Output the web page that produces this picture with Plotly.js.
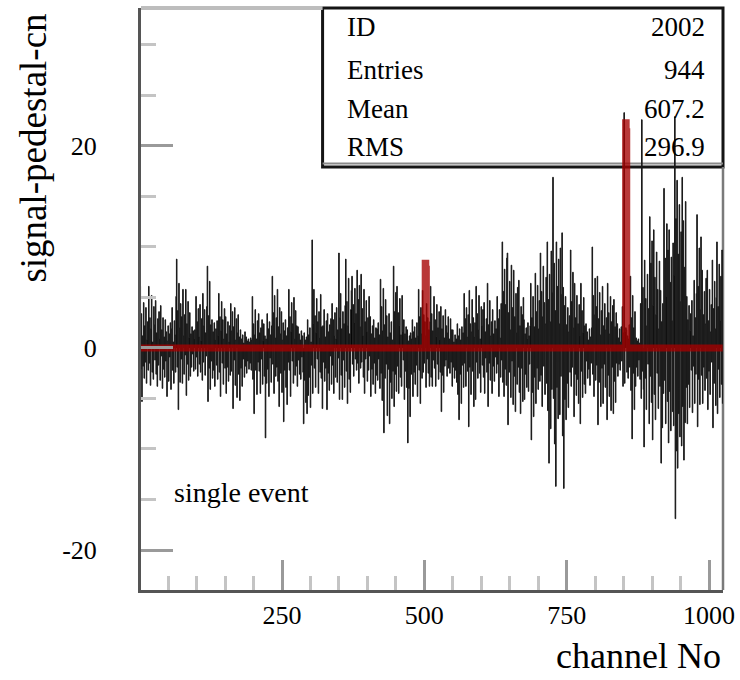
<!DOCTYPE html>
<html><head><meta charset="utf-8">
<script src="https://cdn.plot.ly/plotly-3.0.1.min.js"></script>
<style>html,body{margin:0;padding:0;background:#fff}#plot{width:740px;height:680px}</style>
</head><body><div id="plot"></div>
<script>
// signal - pedestal - common noise, one value per channel (channels 1..1024)
const signal = [
6.1,-2.1,3.4,-5.3,1.2,-1.8,4.5,-3.0,2.2,-1.4,4.0,-3.5,0.8,2.6,-2.2,6.1,-1.5,3.0,-3.7,1.9,5.2,-2.4,0.6,-3.1,4.1,2.3,-1.2,4.7,-2.6,1.5,-3.8,2.9,
-1.7,3.6,0.9,-3.2,4.2,-0.8,1.8,-4.0,3.0,-2.1,1.1,-2.9,2.8,-1.3,1.6,-4.8,0.7,2.2,-3.3,1.4,-0.9,2.5,-4.1,1.9,4.0,-2.2,0.6,-3.5,2.7,1.3,-2.4,5.1,
8.8,-1.9,3.7,-6.1,6.4,2.0,-3.4,4.4,-1.1,3.1,-3.5,5.8,1.2,-2.6,3.3,-0.7,5.8,-4.7,2.4,-1.6,4.6,-3.2,1.0,3.5,-2.8,1.4,-1.9,2.1,-0.6,1.7,-2.3,0.9,
1.8,-2.1,5.1,-0.9,2.6,-2.8,3.9,1.1,-1.6,4.3,-2.4,0.7,2.9,-3.2,5.4,-1.4,2.2,3.8,-2.7,1.5,-0.8,4.1,8.1,-5.3,3.2,-2.0,6.6,-4.1,2.3,-1.3,2.8,-3.0,
1.6,-2.2,2.5,-3.8,0.8,1.9,-1.7,2.7,-3.1,1.2,5.4,-2.4,3.1,-4.8,1.7,4.6,-1.5,2.8,-3.6,0.9,3.9,-2.0,3.1,-4.5,1.4,-1.9,2.6,-3.3,0.6,2.2,-2.7,4.4,
-2.3,1.7,3.6,-6.0,2.1,-1.2,4.0,-3.7,0.8,2.9,-4.9,1.5,3.3,-2.6,1.1,-5.2,1.8,-2.0,0.9,-3.8,1.3,-1.1,0.5,-2.9,1.6,-1.8,1.1,-2.5,0.7,-1.3,0.9,-2.1,
0.6,-1.5,1.0,-2.2,0.8,5.1,-3.1,2.4,-6.5,1.3,3.8,-2.2,0.9,-4.6,2.7,-1.4,3.4,-2.3,1.5,-4.5,2.0,-1.1,2.8,-3.6,0.7,2.4,-2.8,1.2,-8.9,0.9,-3.5,3.4,
-2.1,1.9,-4.8,2.6,-1.0,1.3,-3.4,2.2,7.1,-1.6,3.5,-4.5,5.2,1.0,-2.8,3.0,-1.9,5.8,-3.3,2.1,-5.8,4.0,1.4,-2.5,3.6,-4.4,0.8,2.5,-7.3,1.7,-2.2,2.8,
-3.9,1.2,-5.6,2.0,-1.4,5.8,-2.2,3.1,-4.8,1.6,4.5,-1.3,2.4,-3.5,5.0,0.9,-2.7,3.7,-1.8,2.2,-3.8,2.1,-1.2,1.4,-2.6,0.8,-3.1,1.7,-0.9,1.2,-2.4,-7.5,
1.5,-3.2,0.8,-5.4,1.1,-6.5,2.8,-4.7,1.3,-2.9,2.0,-5.9,0.6,-1.7,10.7,-4.5,2.4,5.8,-2.0,3.2,-3.9,1.5,4.9,-1.1,2.6,-4.5,3.6,1.0,-2.4,5.3,-3.0,2.1,
-6.0,2.2,-1.4,3.8,-3.3,1.1,-2.0,2.7,-6.1,3.4,-2.5,1.6,-4.2,2.3,-0.8,2.9,-3.6,4.4,-1.7,2.8,-4.5,1.2,3.5,-2.9,0.9,4.0,-3.4,1.8,-1.0,9.4,-5.1,3.0,
5.4,-2.7,1.9,-5.1,3.6,-1.2,2.4,-3.9,4.2,8.8,-2.3,4.6,-5.5,2.2,6.9,-3.1,1.4,-4.4,3.8,5.7,7.1,-1.6,4.3,-2.8,2.5,5.9,-1.1,3.4,-2.2,7.7,-1.5,4.8,
-3.5,6.2,2.1,-2.0,7.3,-1.4,3.9,1.2,-2.9,5.8,-4.5,2.6,-1.1,4.7,1.6,-3.3,3.0,-2.2,5.1,-0.8,3.1,-4.8,1.4,-2.1,2.2,-3.6,2.8,-1.5,1.0,-4.5,2.0,-2.7,
1.9,-3.2,2.5,-1.1,1.3,-4.0,6.8,-2.5,4.1,-5.2,1.7,5.9,-8.4,2.3,-3.0,4.8,-1.6,3.2,-6.7,1.1,-2.1,3.4,-7.5,1.5,-3.4,2.6,-5.0,0.8,-2.3,8.1,-5.8,3.6,
-2.6,5.5,-4.3,6.1,-1.8,3.5,-4.5,2.2,4.9,-2.9,1.3,-3.8,5.2,1.6,-1.2,2.8,-5.1,1.4,-2.3,2.1,-3.9,1.8,-9.4,0.7,-4.0,1.2,-6.8,1.5,-2.6,0.9,2.8,-4.8,
1.6,-2.4,2.1,-3.6,1.0,-1.7,2.5,-4.8,1.2,5.8,-2.2,3.1,-5.5,4.0,1.4,-3.0,5.7,-2.4,3.3,-1.5,2.6,1.2,-3.9,4.4,-1.1,3.0,-2.5,1.8,-3.8,2.6,6.1,-2.9,
3.4,-3.8,1.7,-1.2,5.1,-2.0,2.8,-3.8,1.1,4.3,-1.6,2.0,-3.1,3.6,0.8,-2.4,4.1,-6.3,1.9,-2.7,3.2,-4.4,1.0,-1.8,3.8,-1.2,2.2,-2.8,1.5,3.1,-2.0,0.9,
-2.5,2.9,-1.4,1.8,-3.8,1.8,-1.9,0.6,-3.0,1.3,-2.2,0.9,-3.4,2.4,-4.6,1.2,-7.1,1.9,-2.6,0.8,-5.5,2.1,-1.7,1.5,-3.9,5.4,-1.5,2.9,-3.8,4.0,1.1,-2.3,
3.3,-7.8,5.7,-1.9,2.4,-4.6,1.6,4.8,-2.3,3.0,-5.8,1.1,2.5,-5.1,6.1,-1.4,3.4,-3.0,1.8,5.2,-2.5,0.9,-4.4,4.1,2.2,-1.7,3.8,-2.9,4.5,-4.5,1.6,-1.0,
2.9,-2.4,6.4,-5.8,2.3,-1.5,4.7,-3.2,1.2,2.6,-4.5,3.8,-1.8,1.4,-3.3,2.7,-0.9,1.9,-2.5,5.1,-1.6,2.9,-4.8,3.8,1.0,-2.9,4.4,-1.2,10.5,-3.4,5.6,-4.8,
7.8,-2.1,4.3,-3.7,8.9,9.4,-7.6,3.5,-2.4,6.6,1.8,-4.9,8.2,-1.3,4.0,-5.6,7.7,-2.8,3.1,-6.3,5.4,1.5,-3.6,6.0,-1.9,6.7,-4.4,2.2,-6.5,4.1,-2.0,3.3,
-5.3,5.0,2.8,-5.1,1.4,-2.6,2.0,-3.9,0.9,2.5,-4.3,1.2,-1.6,2.2,6.4,-9.1,3.0,-4.4,5.1,-6.8,2.1,-2.9,7.4,-5.5,3.6,-2.0,6.2,-4.1,1.9,4.7,-3.3,9.4,
-2.7,5.6,-5.8,3.1,8.1,-1.8,4.5,-4.6,2.4,7.0,-3.5,10.5,-6.2,4.8,-11.4,7.3,2.6,-8.0,9.6,-4.1,5.5,16.9,-5.0,8.4,-9.5,3.7,-13.7,10.5,-3.9,6.1,-7.0,8.8,
2.4,-6.6,9.9,-2.8,5.3,11.4,-8.7,6.0,-13.9,4.2,-5.1,5.1,-7.1,2.3,-3.5,4.0,-5.9,1.6,3.2,-2.4,9.7,-3.8,4.6,-1.9,7.5,2.0,-6.8,6.4,-2.6,3.0,-4.7,5.2,
-3.1,2.4,-5.5,4.3,1.2,-7.5,6.4,-2.3,3.7,-4.9,1.5,5.0,-3.6,2.2,-4.5,2.4,-1.3,1.6,-3.0,0.8,-2.1,1.9,-3.7,1.1,-1.5,2.0,10.0,-2.6,5.2,-4.8,3.3,6.9,
-3.2,4.1,-1.7,7.1,-7.6,2.9,-3.4,5.5,1.3,-5.8,3.7,-2.0,6.1,-5.5,2.2,-1.6,4.4,-3.9,1.8,3.0,-7.1,6.4,-2.7,3.5,-4.8,1.4,5.1,-6.2,2.6,-1.9,4.2,-6.5,
4.8,-3.3,2.1,-5.4,3.5,-1.5,2.4,-2.8,1.0,-1.6,1.9,-2.2,0.6,2.1,-1.3,4.1,-3.8,1.5,23.3,-3.5,1.6,2.0,1.8,-2.4,1.2,-3.0,0.9,2.3,-1.9,7.1,-4.2,3.0,
-9.0,5.2,-2.5,2.0,-6.1,3.6,-3.8,1.0,-1.9,0.7,-2.8,0.9,-1.2,0.5,-3.1,4.4,-5.0,22.6,-2.3,6.0,-4.1,-9.8,8.7,-3.0,4.9,-6.1,2.2,7.3,-1.6,3.9,-7.5,13.0,
-2.8,8.4,-5.4,10.6,-9.1,4.2,11.7,-4.6,7.0,-7.1,3.3,9.5,-2.5,5.8,-6.0,1.9,8.6,-3.8,5.7,-11.4,2.6,-7.9,4.4,-4.5,15.8,-3.2,8.9,-7.5,5.1,12.3,-5.3,9.7,
-9.4,11.7,-4.3,6.5,-8.2,9.0,2.7,-6.3,10.4,-7.7,7.2,22.9,-16.9,12.8,-10.2,16.6,-11.9,9.3,-6.5,14.2,-8.8,4.6,11.5,-9.7,16.9,-5.8,12.6,-11.1,8.0,-7.4,14.5,-3.9,
5.1,-7.5,2.8,-3.6,4.2,-5.9,1.7,3.4,-2.2,4.7,-6.4,1.2,-1.8,6.7,-5.5,3.0,-2.6,5.4,13.2,-7.8,6.1,-3.1,9.9,-5.6,3.8,11.0,-2.7,7.7,-5.5,3.3,-1.9,5.6,
-4.2,2.4,6.9,-3.0,7.7,-6.1,2.7,-2.3,5.8,-4.6,1.6,4.3,-1.4,8.7,-7.9,3.9,-3.5,6.6,1.9,-5.7,5.0,10.5,-6.5,4.1,-2.1,8.3,-4.9,2.7,7.1,-3.6,9.7,-5.5
];
// channels flagged as hits (red histogram), all other channels are 0
const redChannels = [502, 503, 854, 855];
const redValues = [8.4, 7.8, 22.3, 21.4];

const xTickVals = [250, 500, 750, 1000];
const xTickText = ['250', '500', '750', '1000'];
const yTickVals = [-20, 0, 20];
const yTickText = ['-20', '0', '20'];
const statLabels = ['ID', 'Entries', 'Mean', 'RMS'];
const statValues = ['2002', '944', '607.2', '296.9'];
const xTitle = 'channel No';
const yTitle = 'signal-pedestal-cn';
const noteText = 'single event';

const channels = signal.map((_, i) => i + 1);
const red = channels.map(c => { const k = redChannels.indexOf(c); return k >= 0 ? redValues[k] : 0; });

const serif = 'Liberation Serif, Times New Roman, serif';

const traces = [
  {type: 'scatter', mode: 'lines', x: channels, y: signal, fill: 'tozeroy',
   fillcolor: '#000000', line: {shape: 'hvh', width: 1, color: '#1a1a1a', simplify: false},
   hoverinfo: 'skip', showlegend: false},
  {type: 'scatter', mode: 'lines', x: channels, y: red,
   line: {shape: 'hvh', width: 7, color: 'rgba(165,0,0,0.78)', simplify: false},
   hoverinfo: 'skip', showlegend: false}
];

const statY = [0.967, 0.893, 0.826, 0.761];
const annotations = [];
statLabels.forEach((t, i) => annotations.push({xref: 'paper', yref: 'paper', x: 0.3505, y: statY[i],
  xanchor: 'left', yanchor: 'middle', text: t, showarrow: false, font: {family: serif, size: 27, color: '#000'}}));
statValues.forEach((t, i) => annotations.push({xref: 'paper', yref: 'paper', x: 0.9725, y: statY[i],
  xanchor: 'right', yanchor: 'middle', text: t, showarrow: false, font: {family: serif, size: 27, color: '#000'}}));
annotations.push({xref: 'paper', yref: 'paper', x: 0.0533, y: 0.1667, xanchor: 'left', yanchor: 'middle',
  text: noteText, showarrow: false, font: {family: serif, size: 28, color: '#000'}});
annotations.push({xref: 'paper', yref: 'paper', x: 1.0, y: -0.113, xanchor: 'right', yanchor: 'middle',
  text: xTitle, showarrow: false, font: {family: serif, size: 36, color: '#000'}});
annotations.push({xref: 'paper', yref: 'paper', x: -0.185, y: 0.759, xanchor: 'center', yanchor: 'middle',
  textangle: -90, text: yTitle, showarrow: false, font: {family: serif, size: 37, color: '#000'}});

const layout = {
  width: 740, height: 680,
  margin: {l: 141, r: 17, t: 8, b: 90},
  paper_bgcolor: '#ffffff', plot_bgcolor: '#ffffff',
  font: {family: serif, color: '#000'},
  showlegend: false, hovermode: false,
  xaxis: {range: [2.3, 1024.6], tickvals: xTickVals, ticktext: xTickText,
    ticks: 'inside', ticklen: 30, tickwidth: 3, tickcolor: '#9a9a9a',
    minor: {dtick: 50, tick0: 0, ticks: 'inside', ticklen: 14, tickwidth: 3, tickcolor: '#c4c4c4', showgrid: false},
    showgrid: false, zeroline: false, showline: true, linecolor: '#555555', linewidth: 3,
    tickfont: {family: serif, size: 26, color: '#000'}, ticklabelstandoff: 0},
  yaxis: {range: [-23.96, 33.66], tickvals: yTickVals, ticktext: yTickText,
    ticks: 'inside', ticklen: 32, tickwidth: 3, tickcolor: '#9a9a9a',
    minor: {dtick: 5, tick0: 0, ticks: 'inside', ticklen: 15, tickwidth: 3, tickcolor: '#c4c4c4', showgrid: false},
    showgrid: false, zeroline: false, showline: true, linecolor: '#555555', linewidth: 3,
    tickfont: {family: serif, size: 26, color: '#000'}, ticklabelstandoff: 36},
  shapes: [
    {type: 'rect', xref: 'paper', yref: 'paper', x0: 0.312, x1: 1.0, y0: 0.727, y1: 1.0,
     fillcolor: 'rgba(255,255,255,0)', line: {color: '#151515', width: 3}, layer: 'below'},
    {type: 'line', xref: 'paper', yref: 'paper', x0: 0.312, x1: 1.0, y0: 0.733, y1: 0.733,
     line: {color: '#8a8a8a', width: 2}, layer: 'below'},
    {type: 'line', xref: 'paper', yref: 'paper', x0: 0, x1: 0.312, y0: 1.0, y1: 1.0,
     line: {color: '#bdbdbd', width: 4}, layer: 'below'},
    {type: 'line', xref: 'paper', yref: 'paper', x0: 1.0, x1: 1.0, y0: 0, y1: 0.727,
     line: {color: '#7a7a7a', width: 2.5}, layer: 'below'}
  ],
  annotations: annotations
};

Plotly.newPlot('plot', traces, layout, {displayModeBar: false, staticPlot: true});
</script>
</body></html>
